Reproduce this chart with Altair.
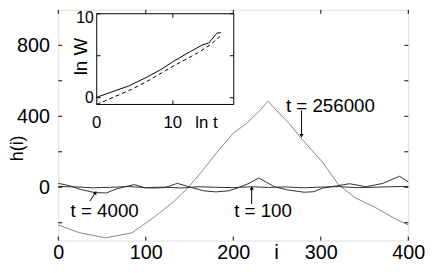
import altair as alt
import pandas as pd

# ---------------- data ----------------
i_256000 = [0, 24, 54, 84, 110, 133, 148, 165, 181, 200, 215, 230, 240, 245, 264, 279, 302, 320, 339, 362, 384, 400]
h_256000 = [-212, -256, -285, -257, -167, -76, -4, 95, 195, 305, 359, 431, 486, 455, 359, 268, 141, 16, -58, -113, -175, -212]

i_4000 = [0, 12, 25, 42, 55, 66, 78, 87, 99, 110, 122, 136, 148, 166, 180, 195, 206, 218, 229, 238, 247, 262, 281, 292, 302, 318, 333, 352, 371, 390, 400]
h_4000 = [22, 10, -12, -30, -32, -10, 5, 15, -3, -4, -2, 22, 5, -20, -26, -20, -2, 22, 52, 28, 3, -15, -28, -25, -5, 8, 20, 3, 22, 62, 30]

i_100 = [0, 20, 40, 60, 80, 100, 120, 140, 160, 180, 200, 220, 240, 260, 280, 300, 320, 340, 360, 380, 400]
h_100 = [5, 2, -3, 0, 4, -2, 1, -4, 3, 0, -2, 3, -1, 2, -3, 1, 4, -2, 0, 3, 5]

# inset: ln W versus ln t
lnt_solid = [0, 2, 4.2, 6.7, 8.5, 10.1, 12.3, 13.9, 14.7, 15.6, 15.8, 16.3]
lnW_solid = [0.05, 0.7, 1.4, 2.5, 3.4, 4.35, 5.5, 6.3, 6.5, 7.5, 7.7, 7.75]
lnt_dash = [0, 4.6, 6.7, 10.2, 13.2, 14.9, 16.2]
lnW_dash = [-0.8, 1.0, 2.0, 3.85, 5.3, 6.3, 7.3]

x_ticks = [0, 100, 200, 300, 400]
y_ticks = [-200, 0, 200, 400, 600, 800]
y_labels = [0, 400, 800]
inset_x_ticks = [10]
inset_y_ticks = [0, 5, 10]

series_names = ["t = 256000", "t = 4000", "t = 100"]
series_colors = ["#858585", "#303030", "#303030"]

FONT = "Liberation Sans"
W, H = 355, 234

# ---------------- main panel ----------------
rows = []
for name, xs, ys in [("t = 256000", i_256000, h_256000), ("t = 4000", i_4000, h_4000), ("t = 100", i_100, h_100)]:
    for a, b in zip(xs, ys):
        rows.append({"i": a, "h": b, "series": name})
df = pd.DataFrame(rows)

xs_main = alt.Scale(domain=[0, 400], nice=False, zero=False)
ys_main = alt.Scale(domain=[-300, 1000], nice=False, zero=False)

x_axis = alt.Axis(values=x_ticks, ticks=False, domain=False, grid=False, labelFlush=False,
                  labelFontSize=20, labelPadding=2, labelColor="black", labelFont=FONT,
                  title="i", titleFontSize=21, titleFontWeight="normal", titleFont=FONT,
                  titleColor="black", titleX=221, titleY=22, titleBaseline="bottom", titleAlign="center")
y_axis = alt.Axis(values=y_labels, ticks=False, domain=False, grid=False, labelFlush=False,
                  labelFontSize=20, labelPadding=9, labelColor="black", labelFont=FONT,
                  title="h(i)", titleFontSize=18, titleFontWeight="normal", titleFont=FONT,
                  titleColor="black", titleAngle=270, titleX=-41, titleY=140,
                  titleAlign="center", titleBaseline="middle")

lines = alt.Chart(df).mark_line(strokeWidth=1).encode(
    x=alt.X("i:Q", scale=xs_main, axis=x_axis),
    y=alt.Y("h:Q", scale=ys_main, axis=y_axis),
    color=alt.Color("series:N", scale=alt.Scale(domain=series_names, range=series_colors), legend=None),
)

xt = pd.DataFrame({"i": x_ticks})
yt = pd.DataFrame({"h": y_ticks})
tick_b = alt.Chart(xt).mark_rule(color="black", strokeWidth=1).encode(
    x=alt.X("i:Q", scale=xs_main), y=alt.value(H), y2=alt.value(H - 4))
tick_t = alt.Chart(xt).mark_rule(color="black", strokeWidth=1).encode(
    x=alt.X("i:Q", scale=xs_main), y=alt.value(0), y2=alt.value(4))
tick_l = alt.Chart(yt).mark_rule(color="black", strokeWidth=1).encode(
    y=alt.Y("h:Q", scale=ys_main), x=alt.value(0), x2=alt.value(4))
tick_r = alt.Chart(yt).mark_rule(color="black", strokeWidth=1).encode(
    y=alt.Y("h:Q", scale=ys_main), x=alt.value(W), x2=alt.value(W - 4))

# annotations
ann = pd.DataFrame({"i": [311, 53, 234], "h": [460, -133, -133], "label": series_names})
ann_text = alt.Chart(ann).mark_text(fontSize=19, font=FONT, color="black", align="center", baseline="middle").encode(
    x=alt.X("i:Q", scale=xs_main), y=alt.Y("h:Q", scale=ys_main), text="label:N")

shafts = pd.DataFrame({"i": [278, 36, 221], "h": [433, -78, -94], "i2": [278, 42, 221], "h2": [292, -33, -6]})
shaft = alt.Chart(shafts).mark_rule(color="black", strokeWidth=1).encode(
    x=alt.X("i:Q", scale=xs_main), y=alt.Y("h:Q", scale=ys_main), x2="i2:Q", y2="h2:Q")

heads = pd.DataFrame({"i": [278, 42.5, 221], "h": [290, -30, -4], "ang": [180, 33, 0]})
head = alt.Chart(heads).mark_point(shape="triangle-up", filled=True, color="black", size=18, opacity=1).encode(
    x=alt.X("i:Q", scale=xs_main), y=alt.Y("h:Q", scale=ys_main), angle=alt.Angle("ang:Q", scale=None))

main = alt.layer(lines, tick_b, tick_t, tick_l, tick_r, shaft, head, ann_text)

# ---------------- inset ----------------
xs_in = alt.Scale(domain=[0, 18], range=[39, 178], nice=False, zero=False)
ys_in = alt.Scale(domain=[-0.8, 10], range=[96, 4], nice=False, zero=False)

frame = alt.Chart(pd.DataFrame({"lnt": [0], "lnt2": [18], "lnW": [-0.8], "lnW2": [10]})).mark_rect(
    fill="white", stroke="black", strokeWidth=1).encode(
    x=alt.X("lnt:Q", scale=xs_in, axis=None), x2="lnt2:Q",
    y=alt.Y("lnW:Q", scale=ys_in, axis=None), y2="lnW2:Q")

solid = alt.Chart(pd.DataFrame({"lnt": lnt_solid, "lnW": lnW_solid})).mark_line(color="black", strokeWidth=1).encode(
    x=alt.X("lnt:Q", scale=xs_in, axis=None), y=alt.Y("lnW:Q", scale=ys_in, axis=None))
dashed = alt.Chart(pd.DataFrame({"lnt": lnt_dash, "lnW": lnW_dash})).mark_line(
    color="black", strokeWidth=1, strokeDash=[4, 3]).encode(
    x=alt.X("lnt:Q", scale=xs_in, axis=None), y=alt.Y("lnW:Q", scale=ys_in, axis=None))

ixt = pd.DataFrame({"lnt": inset_x_ticks})
iyt = pd.DataFrame({"lnW": inset_y_ticks})
itick_t = alt.Chart(ixt).mark_rule(color="black", strokeWidth=1).encode(
    x=alt.X("lnt:Q", scale=xs_in, axis=None), y=alt.value(4), y2=alt.value(8))
itick_b = alt.Chart(ixt).mark_rule(color="black", strokeWidth=1).encode(
    x=alt.X("lnt:Q", scale=xs_in, axis=None), y=alt.value(96), y2=alt.value(92))
itick_l = alt.Chart(iyt).mark_rule(color="black", strokeWidth=1).encode(
    y=alt.Y("lnW:Q", scale=ys_in, axis=None), x=alt.value(39), x2=alt.value(43))
itick_r = alt.Chart(iyt).mark_rule(color="black", strokeWidth=1).encode(
    y=alt.Y("lnW:Q", scale=ys_in, axis=None), x=alt.value(178), x2=alt.value(174))

iylab = pd.DataFrame({"lnt": [-0.4, -0.4], "lnW": [9.45, 0], "label": ["10", "0"]})
iylab_t = alt.Chart(iylab).mark_text(fontSize=16, font=FONT, color="black", align="right", baseline="middle").encode(
    x=alt.X("lnt:Q", scale=xs_in, axis=None), y=alt.Y("lnW:Q", scale=ys_in, axis=None), text="label:N")
ixlab = pd.DataFrame({"lnt": [0, 10, 14.4], "lnW": [-3.0, -3.0, -3.0], "label": ["0", "10", "ln t"]})
ixlab_t = alt.Chart(ixlab).mark_text(fontSize=17, font=FONT, color="black", align="center", baseline="middle").encode(
    x=alt.X("lnt:Q", scale=xs_in, axis=None), y=alt.Y("lnW:Q", scale=ys_in, axis=None), text="label:N")
ititle = pd.DataFrame({"lnt": [-2.0], "lnW": [4.9], "label": ["ln W"]})
ititle_t = alt.Chart(ititle).mark_text(fontSize=19, font=FONT, color="black", align="center", baseline="middle", angle=270).encode(
    x=alt.X("lnt:Q", scale=xs_in, axis=None), y=alt.Y("lnW:Q", scale=ys_in, axis=None), text="label:N")

inset = alt.layer(frame, solid, dashed, itick_t, itick_b, itick_l, itick_r, iylab_t, ixlab_t, ititle_t)

chart = alt.layer(main, inset).resolve_scale(x="independent", y="independent").properties(
    width=W, height=H,
    padding={"left": 51, "top": 0, "right": 20, "bottom": 23},
    autosize=alt.AutoSizeParams(type="none"),
).configure_view(stroke="black", strokeWidth=1).configure(font=FONT)

chart.save("out.html", embed_options={"renderer": "svg", "actions": False})
